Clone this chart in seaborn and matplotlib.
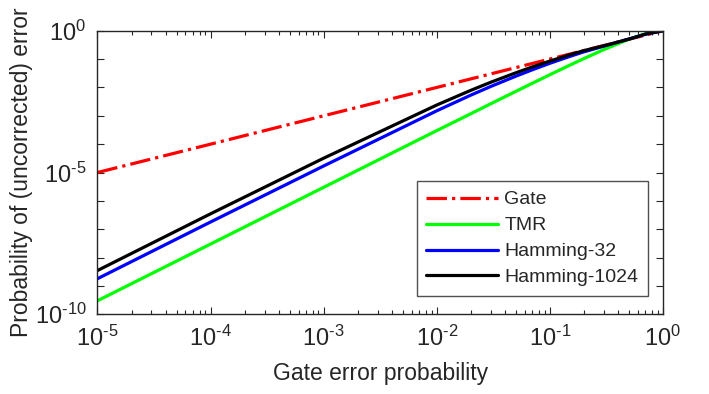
import numpy as np
import pandas as pd
import seaborn as sns
import matplotlib
matplotlib.use("Agg")
import matplotlib.pyplot as plt
from matplotlib.ticker import LogLocator, FuncFormatter, NullFormatter

# gate error probability (x) and read-off error probabilities
p_gate = [1e-5, 1e-4, 1e-3, 1e-2, 2e-2, 3e-2, 5e-2, 7e-2, 1e-1, 1.5e-1, 2e-1, 3e-1, 5e-1, 7e-1, 1.0]
err_gate = [1e-5, 1e-4, 1e-3, 1e-2, 2e-2, 3e-2, 5e-2, 7e-2, 1e-1, 1.5e-1, 2e-1, 3e-1, 5e-1, 7e-1, 1.0]
err_tmr = [3.0e-10, 3.0e-8, 3.0e-6, 3.0e-4, 1.18e-3, 2.65e-3, 7.25e-3, 1.4e-2,
           2.8e-2, 6.1e-2, 0.104, 0.216, 0.5, 0.78, 1.0]
err_ham32 = [1.8e-9, 1.8e-7, 1.7e-5, 1.5e-3, 5.35e-3, 1.08e-2, 2.49e-2, 4.19e-2,
             7.1e-2, 0.124, 0.18, 0.285, 0.51, 0.75, 1.0]
err_ham1024 = [3.5e-9, 3.5e-7, 3.2e-5, 2.4e-3, 7.9e-3, 1.52e-2, 3.28e-2, 5.28e-2,
               8.5e-2, 0.142, 0.199, 0.295, 0.505, 0.76, 1.0]

sns.set_style("white")
plt.rcParams['font.family'] = ['Liberation Sans', 'DejaVu Sans']
plt.rcParams['mathtext.fontset'] = 'custom'
plt.rcParams['mathtext.rm'] = 'Liberation Sans'
plt.rcParams['mathtext.default'] = 'regular'


def dec_label(e):
    # MATLAB style 10^{-5}, with a short hyphen instead of a wide minus
    if e < 0:
        return r"$10^{\text{-}%d}$" % (-e)
    return r"$10^{%d}$" % e


fig = plt.figure(figsize=(7.09, 3.94), dpi=100)
ax = fig.add_axes([0.1375, 0.2023, 0.7975, 0.7197])

series = [
    ("Gate", err_gate, "#ff0000", "-."),
    ("TMR", err_tmr, "#00ff00", "-"),
    ("Hamming-32", err_ham32, "#0000ff", "-"),
    ("Hamming-1024", err_ham1024, "#000000", "-"),
]
for name, vals, col, ls in series:
    sns.lineplot(x=p_gate, y=vals, ax=ax, color=col, linestyle=ls,
                 linewidth=2.3, label=name)

ax.set_xscale("log")
ax.set_yscale("log")
ax.set_xlim(1e-5, 1)
ax.set_ylim(1e-10, 1)

ax.xaxis.set_major_locator(LogLocator(base=10, numticks=20))
ax.xaxis.set_minor_locator(LogLocator(base=10, subs=np.arange(2, 10), numticks=100))
ax.yaxis.set_major_locator(LogLocator(base=10, numticks=20))
ax.yaxis.set_minor_locator(LogLocator(base=10, subs=[], numticks=20))
ax.yaxis.set_major_formatter(FuncFormatter(
    lambda v, pos: dec_label(round(np.log10(v))) if round(np.log10(v)) % 5 == 0 else ""))
ax.xaxis.set_major_formatter(FuncFormatter(lambda v, pos: dec_label(round(np.log10(v)))))
ax.xaxis.set_minor_formatter(NullFormatter())

ax.tick_params(which="both", direction="in", top=True, right=True, left=True,
               bottom=True, color="#262626")
ax.tick_params(which="major", length=5, width=0.8, labelsize=17, pad=8)
ax.tick_params(which="minor", length=3, width=0.8)
for s in ax.spines.values():
    s.set_color("#262626")
    s.set_linewidth(1.0)

ax.set_xlabel("Gate error probability", fontsize=16.5, color="#262626")
ax.set_ylabel("Probability of (uncorrected) error", fontsize=16.5, color="#262626")
ax.xaxis.set_label_coords(0.5, -0.168)
ax.yaxis.set_label_coords(-0.114, 0.5)

leg = ax.legend(loc="lower right", fontsize=14, handlelength=3.7, frameon=True,
                fancybox=False, borderpad=0.5, labelspacing=0.43, handletextpad=0.3,
                borderaxespad=0, bbox_to_anchor=(0.9735, 0.0645))
leg.get_frame().set_edgecolor("#262626")
leg.get_frame().set_linewidth(1.0)

fig.savefig("out.png", dpi=100)
